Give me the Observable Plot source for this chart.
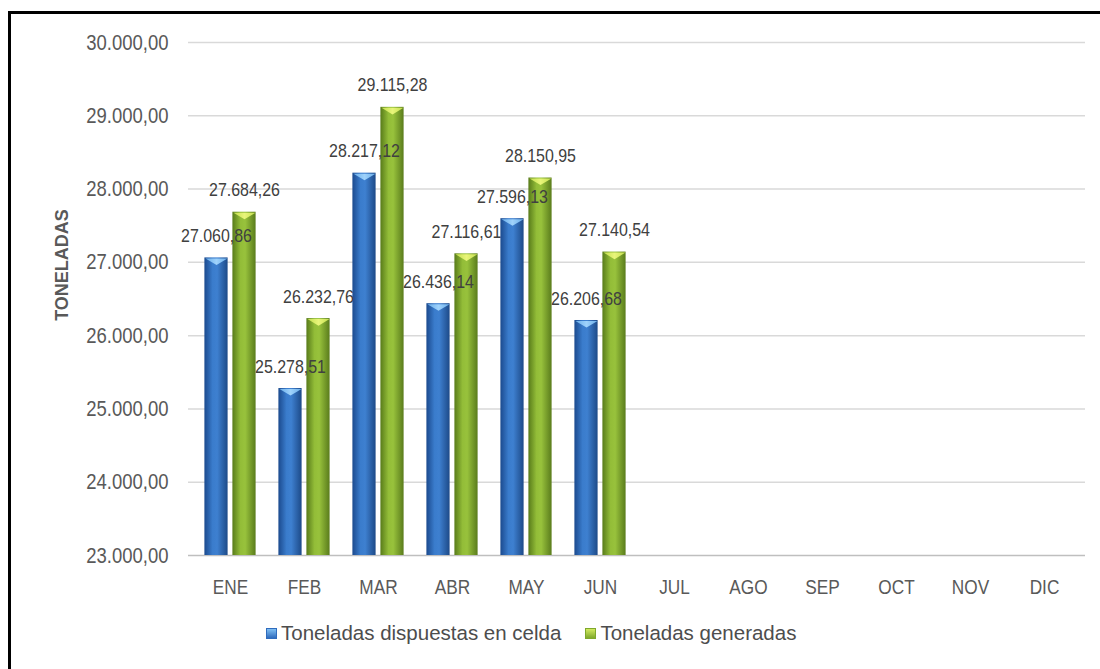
<!DOCTYPE html>
<html>
<head>
<meta charset="utf-8">
<script src="https://cdn.jsdelivr.net/npm/d3@7"></script>
<script src="https://cdn.jsdelivr.net/npm/@observablehq/plot@0.6"></script>
<style>
  html, body { margin: 0; padding: 0; background: #fff; }
  #wrap { position: relative; width: 1100px; height: 669px; overflow: hidden; background: #fff; }
  #frame { position: absolute; left: 8px; top: 11px; width: 1200px; height: 800px;
           border-left: 3px solid #000; border-top: 3px solid #000; box-sizing: border-box; }
  #chart { position: absolute; left: 0; top: 0; }
  #legend { position: absolute; left: 266px; top: 621px; display: flex; line-height: 24px;
            font-family: "Liberation Sans", Arial, sans-serif; font-size: 20.5px; color: #4d4d4d; }
  .item { display: flex; align-items: center; margin-right: 24px; }
  .sw { width: 9px; height: 9px; margin-right: 4px; }
  #ylab { position: absolute; left: 62px; top: 265px; transform: translate(-50%, -50%) rotate(-90deg);
          font-family: "Liberation Sans", Arial, sans-serif; font-weight: bold; font-size: 18px; color: #595959; white-space: nowrap; }
</style>
</head>
<body>
<div id="wrap">
  <div id="frame"></div>
  <div id="chart"></div>
  <div id="ylab">TONELADAS</div>
  <div id="legend"></div>
</div>
<script>
const months = ["ENE","FEB","MAR","ABR","MAY","JUN","JUL","AGO","SEP","OCT","NOV","DIC"];
const seriesNames = ["Toneladas dispuestas en celda", "Toneladas generadas"];
const dispuestas = [27060.86, 25278.51, 28217.12, 26436.14, 27596.13, 26206.68];
const generadas = [27684.26, 26232.76, 29115.28, 27116.61, 28150.95, 27140.54];
const yTicks = [23000, 24000, 25000, 26000, 27000, 28000, 29000, 30000];

const FONT = '"Liberation Sans", Arial, sans-serif';
const fmt = d3.formatLocale({decimal: ",", thousands: ".", grouping: [3], currency: ["", ""]}).format(",.2f");
const base = yTicks[0];

const dispRows = dispuestas.map((v, i) => ({month: months[i], value: v}));
const genRows = generadas.map((v, i) => ({month: months[i], value: v}));

// flat downward triangle for the bar tops
const capSymbol = {
  draw(context, size) {
    const r = Math.sqrt(size / Math.PI);
    context.moveTo(-r, 0);
    context.lineTo(r, 0);
    context.lineTo(0, r * 0.6);
    context.closePath();
  }
};

const inset = 25.4;
const off = 14;

function barMarks(rows, dx, bodyFill, capFill) {
  return [
    Plot.barY(rows, {x: "month", y1: () => base, y2: "value", dx, insetLeft: inset, insetRight: inset, fill: bodyFill}),
    Plot.dot(rows, {x: "month", y: "value", dx, dy: 0.5, symbol: capSymbol, r: 11, fill: capFill, stroke: "none"})
  ];
}
function labelMarks(rows, dx) {
  return Plot.text(rows, {x: "month", y: "value", dx, dy: -22, text: d => fmt(d.value), fontSize: 19, fill: "#404040"});
}

const chart = Plot.plot({
  width: 1100,
  height: 610,
  marginLeft: 188,
  marginRight: 15,
  marginTop: 42,
  marginBottom: 55,
  style: {fontFamily: FONT, background: "transparent", overflow: "visible"},
  x: {domain: months, padding: 0, label: null},
  y: {domain: [23000, 30000], label: null},
  marks: [
    Plot.ruleY(yTicks.slice(1), {stroke: "#d9d9d9", strokeWidth: 1.5}),
    Plot.ruleY([base], {stroke: "#bfbfbf", strokeWidth: 1.5}),
    Plot.axisY({ticks: yTicks, tickFormat: fmt, tickSize: 0, tickPadding: 20, fontSize: 22, color: "#595959", label: null}),
    Plot.axisX({tickSize: 0, tickPadding: 24, fontSize: 20.5, color: "#595959", label: null}),
    ...barMarks(dispRows, -off, "url(#gBlue)", "url(#cBlue)"),
    ...barMarks(genRows, off, "url(#gGreen)", "url(#cGreen)"),
    labelMarks(dispRows, -off),
    labelMarks(genRows, off)
  ]
});

// gradients for the cylinder-like bars
const svg = d3.select(chart);
const defs = svg.insert("defs", ":first-child");
function hGrad(id, stops) {
  const g = defs.append("linearGradient").attr("id", id).attr("x1", 0).attr("x2", 1).attr("y1", 0).attr("y2", 0);
  stops.forEach(([o, c]) => g.append("stop").attr("offset", o).attr("stop-color", c));
}
hGrad("gBlue", [[0, "#1b4a8e"], [0.35, "#3a7ccc"], [0.55, "#3e80d0"], [1, "#1d4a88"]]);
hGrad("gGreen", [[0, "#587b1a"], [0.35, "#93bd38"], [0.55, "#98c23c"], [1, "#5a7c1c"]]);
hGrad("cBlue", [[0, "#6aaeea"], [0.5, "#9fd2fb"], [1, "#6aaeea"]]);
hGrad("cGreen", [[0, "#c4df4e"], [0.5, "#e8f57a"], [1, "#c4df4e"]]);

document.getElementById("chart").appendChild(chart);

// condense the chart texts horizontally (narrow-font look)
svg.selectAll("text").each(function() {
  const len = this.getComputedTextLength();
  if (len > 0) {
    this.setAttribute("textLength", (len * 0.84).toFixed(1));
    this.setAttribute("lengthAdjust", "spacingAndGlyphs");
  }
});

// legend
const legend = document.getElementById("legend");
[["#2f6bbd", "#7fbff3"], ["#7fa82c", "#d2ea60"]].forEach(([c1, c2], i) => {
  const item = document.createElement("div");
  item.className = "item";
  const sw = document.createElement("div");
  sw.className = "sw";
  sw.style.background = `linear-gradient(${c2}, ${c1})`;
  sw.style.border = `1px solid ${c1}`;
  const t = document.createElement("span");
  t.textContent = seriesNames[i];
  item.appendChild(sw);
  item.appendChild(t);
  legend.appendChild(item);
});
</script>
</body>
</html>
